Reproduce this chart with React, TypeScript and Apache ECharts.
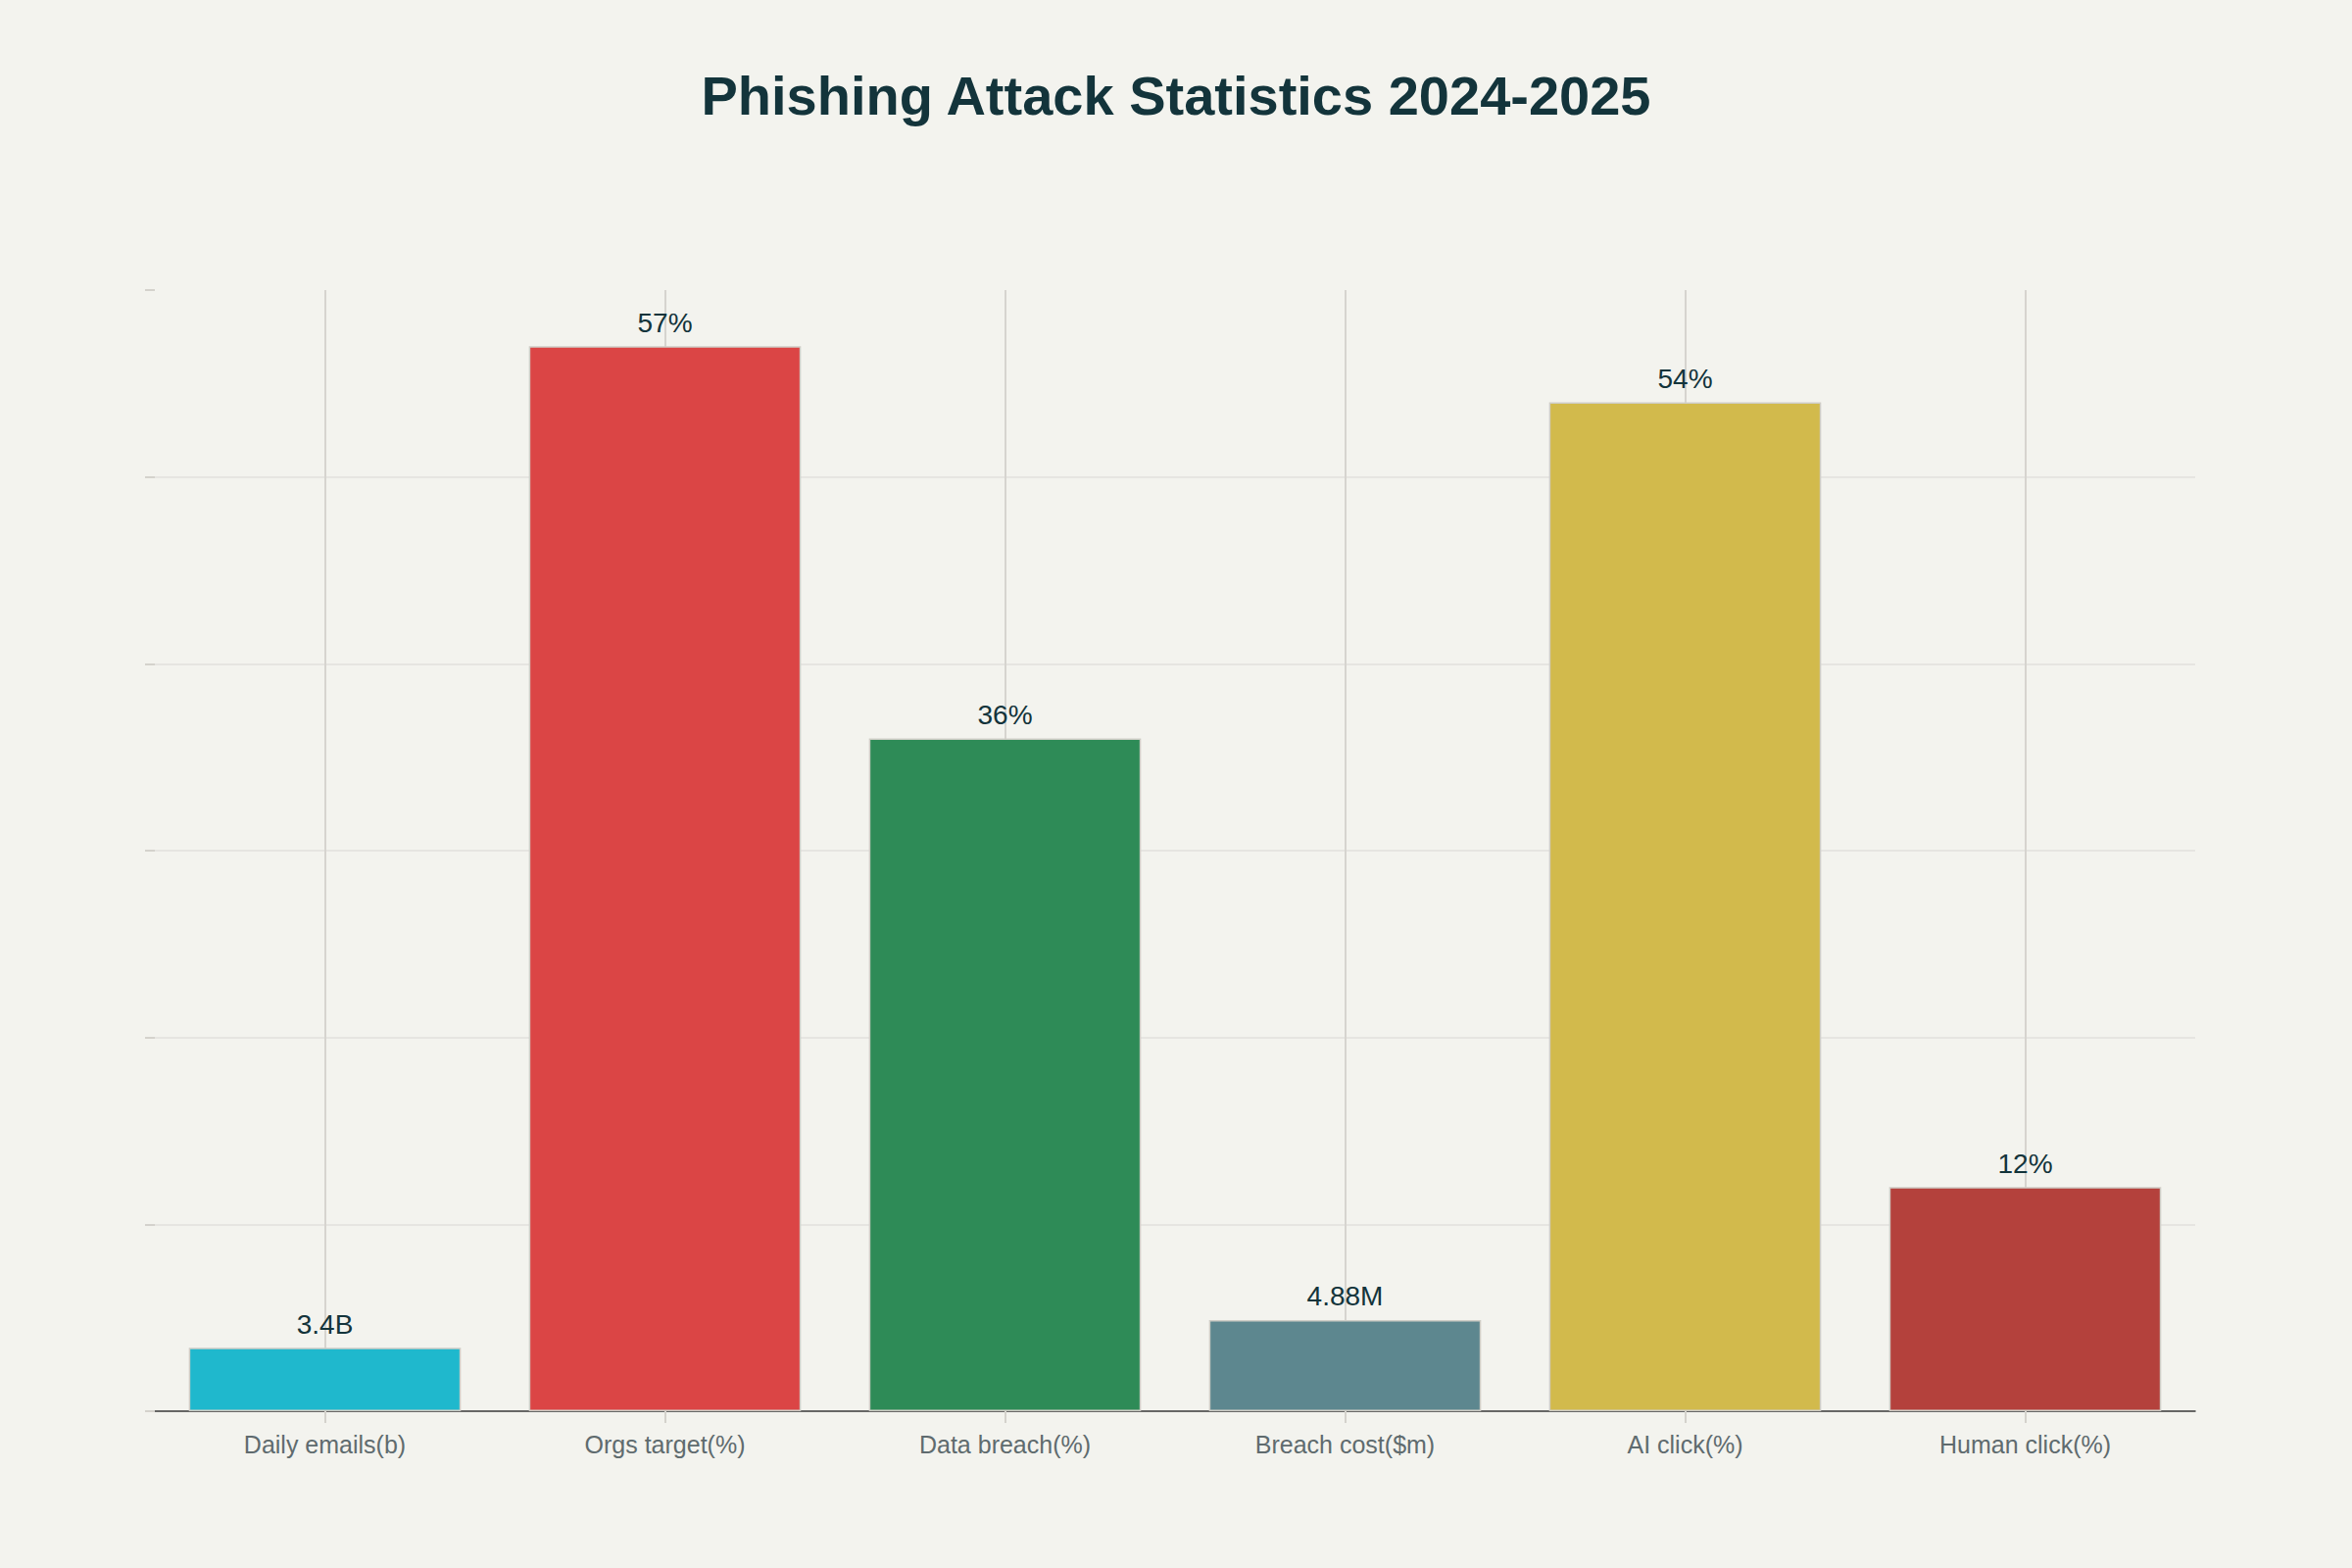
import React, { useEffect, useRef } from "react";
import * as echarts from "echarts";

const categories = [
  "Daily emails(b)",
  "Orgs target(%)",
  "Data breach(%)",
  "Breach cost($m)",
  "AI click(%)",
  "Human click(%)",
];
const values = [3.4, 57, 36, 4.88, 54, 12];
const valueLabels = ["3.4B", "57%", "36%", "4.88M", "54%", "12%"];
const barColors = ["#1FB8CD", "#DB4545", "#2E8B57", "#5D878F", "#D2BA4C", "#B4413C"];
const titleText = "Phishing Attack Statistics 2024-2025";

export default function App() {
  const ref = useRef<HTMLDivElement>(null);
  useEffect(() => {
    document.body.style.margin = "0";
    const chart = echarts.init(ref.current!, null, { renderer: "svg" });
    chart.setOption({
      animation: false,
      backgroundColor: "#F3F3EE",
      title: {
        text: titleText,
        left: "center",
        top: 64,
        textStyle: {
          fontFamily: "Liberation Sans, Arial, sans-serif",
          fontWeight: "bold",
          fontSize: 56,
          color: "#13343B",
        },
      },
      grid: { left: 158, right: 160, top: 296, bottom: 160, containLabel: false },
      xAxis: {
        type: "category",
        data: categories,
        axisLine: { show: true, lineStyle: { color: "#3d3d3d", width: 1.5 } },
        axisTick: { show: true, alignWithLabel: true, length: 12, lineStyle: { color: "#D4D2CC", width: 2 } },
        splitLine: { show: true, alignWithLabel: true, lineStyle: { color: "#D6D4CF", width: 2 } },
        axisLabel: {
          fontFamily: "Liberation Sans, Arial, sans-serif",
          fontSize: 25,
          color: "#5F6B6E",
          margin: 21,
        },
      },
      yAxis: {
        type: "value",
        min: 0,
        max: 60,
        interval: 10,
        axisLine: { show: false },
        axisTick: { show: true, length: 10, lineStyle: { color: "#D4D2CC", width: 2 } },
        axisLabel: { show: false },
        splitLine: { show: true, showMaxLine: false, lineStyle: { color: "#E2E1DC", width: 1.5 } },
      },
      series: [
        {
          type: "bar",
          barCategoryGap: "20%",
          data: values.map((v, i) => ({
            value: v,
            itemStyle: { color: barColors[i], borderColor: "#CFCDC6", borderWidth: 1.5 },
          })),
          label: {
            show: true,
            position: "top",
            distance: 10,
            fontFamily: "Liberation Sans, Arial, sans-serif",
            fontSize: 28,
            color: "#13343B",
            formatter: (p: any) => valueLabels[p.dataIndex],
          },
        },
      ],
    });
    return () => chart.dispose();
  }, []);
  return <div ref={ref} style={{ width: 2400, height: 1600 }} />;
}
